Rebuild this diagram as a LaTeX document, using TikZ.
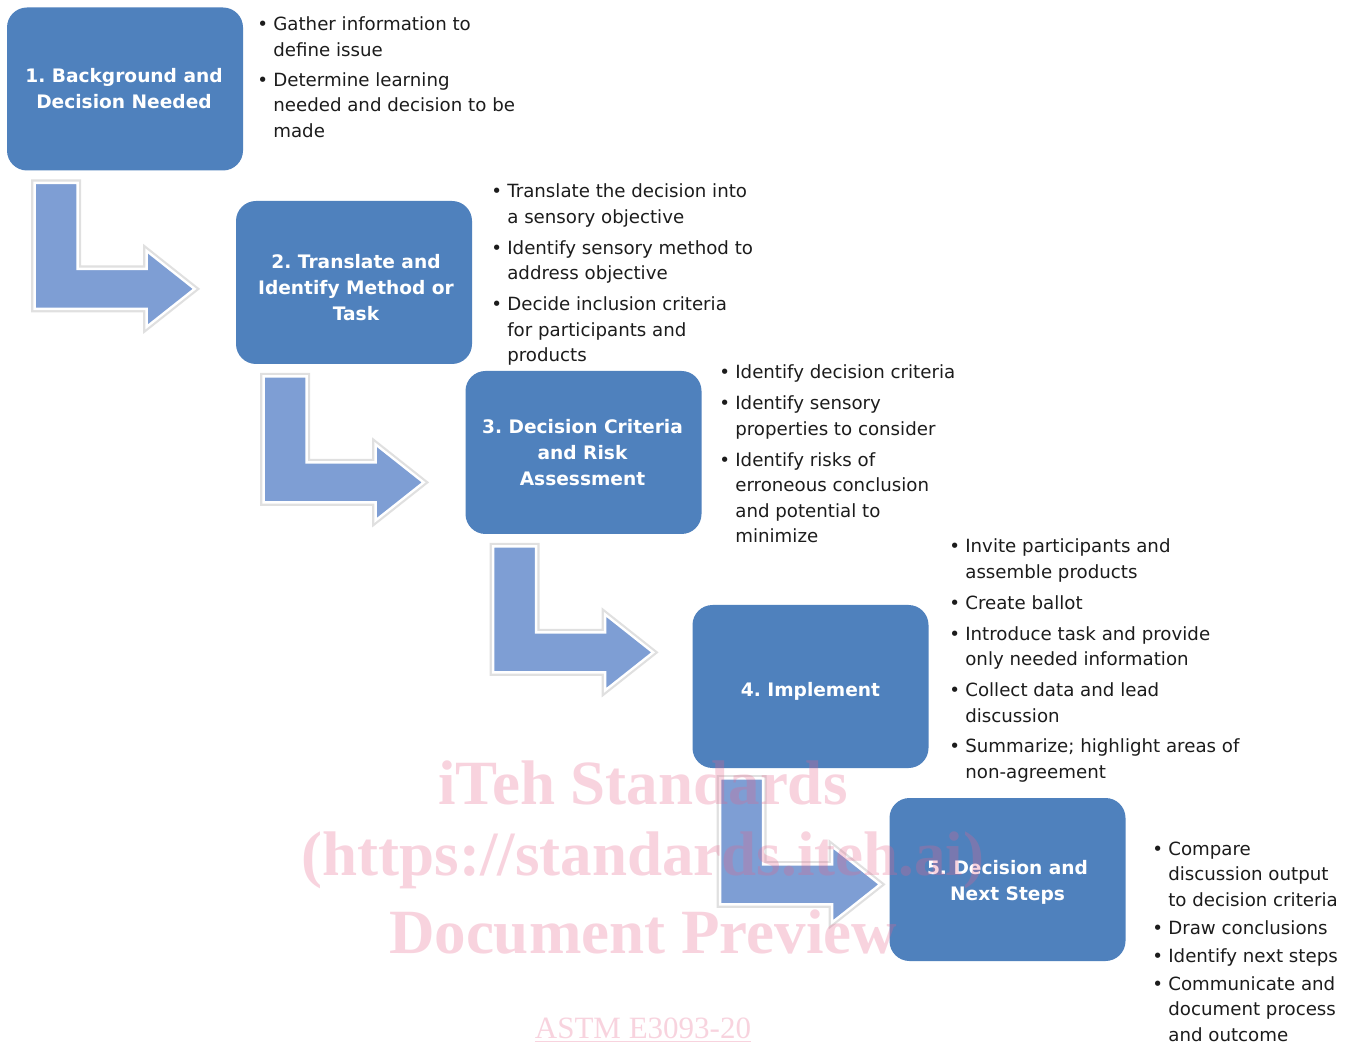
\documentclass[tikz,border=0pt]{standalone}
\usepackage{fontspec}
\setmainfont{DejaVu Sans}
\newfontfamily\wmfont{Liberation Serif}
\usetikzlibrary{calc}
\frenchspacing
\definecolor{boxblue}{RGB}{79,129,189}
\definecolor{arrowblue}{RGB}{126,158,212}
\definecolor{txt}{RGB}{28,28,28}
\definecolor{wmpink}{RGB}{230,100,140}
\newcommand{\blst}[1]{\begin{tabular}[t]{@{}l@{\hspace{2.6pt}}l@{}}#1\end{tabular}}
\tikzset{
  stepbox/.style={fill=boxblue, rounded corners=10pt, minimum width=118pt, minimum height=81.5pt,
    inner sep=0pt},
  steptext/.style={inner sep=0pt, text=white, font=\fontsize{9.3}{13}\selectfont\bfseries, align=center},
  blist/.style={anchor=base west, inner sep=0pt, text=txt, font=\fontsize{9.1}{12.8}\selectfont},
  bentarrow/.style={fill=arrowblue, draw=white, line width=1.2pt, line join=miter},
  arrowshadow/.style={draw=black!12, line width=3.4pt, line join=miter},
  wm/.style={text=wmpink, text opacity=0.28, font=\wmfont\bfseries\fontsize{31.5}{34}\selectfont, inner sep=0pt},
  bent/.pic={
    \draw[arrowshadow] (0,0) -- (43,0) -- (43,86) -- (112,86) -- (112,68) -- (160,106) -- (112,144) -- (112,126) -- (0,126) -- cycle;
    \draw[bentarrow] (0,0) -- (43,0) -- (43,86) -- (112,86) -- (112,68) -- (160,106) -- (112,144) -- (112,126) -- (0,126) -- cycle;
  }
}
\begin{document}
\begin{tikzpicture}[x=0.5pt,y=-0.5pt]
\useasboundingbox[fill=white] (0,0) rectangle (1360,1047);

% step boxes
\node[stepbox] (b1) at (125,89) {};
\node[stepbox] (b2) at (354,282.5) {};
\node[stepbox] (b3) at (583.5,452.5) {};
\node[stepbox] (b4) at (810.5,686.5) {};
\node[stepbox] (b5) at (1007.5,879.5) {};
\node[steptext] (t1) at ($(b1.center)+(-1,0)$) {1. Background and\\Decision Needed};
\node[steptext] (t2) at ($(b2.center)+(2,5)$) {2. Translate and\\Identify Method or\\Task};
\node[steptext] (t3) at ($(b3.center)+(-1,0)$) {3. Decision Criteria\\and Risk\\Assessment};
\node[steptext] (t4) at ($(b4.center)+(0,5)$) {4. Implement};
\node[steptext] (t5) at ($(b5.center)+(0,3)$) {5. Decision and\\Next Steps};

% bent arrows between steps
\pic at ($(b1.south west)+(28,12)$) {bent};
\pic at ($(b2.south west)+(28,12)$) {bent};
\pic at ($(b3.south west)+(28,12)$) {bent};
\pic at ($(b4.south west)+(28,10)$) {bent};

% bullet lists
\node[blist] (l1) at (257,31) {\blst{%
\textbullet & Gather information to\\ & define issue\\[2pt]
\textbullet & Determine learning\\ & needed and decision to be\\ & made}};
\node[blist] (l2) at (491,198) {\blst{%
\textbullet & Translate the decision into\\ & a sensory objective\\[2.6pt]
\textbullet & Identify sensory method to\\ & address objective\\[2.6pt]
\textbullet & Decide inclusion criteria\\ & for participants and\\ & products}};
\node[blist] (l3) at (719,379) {\blst{%
\textbullet & Identify decision criteria\\[2.6pt]
\textbullet & Identify sensory\\ & properties to consider\\[2.6pt]
\textbullet & Identify risks of\\ & erroneous conclusion\\ & and potential to\\ & minimize}};
\node[blist] (l4) at (949,553) {\blst{%
\textbullet & Invite participants and\\ & assemble products\\[2.6pt]
\textbullet & Create ballot\\[2.6pt]
\textbullet & Introduce task and provide\\ & only needed information\\[2.6pt]
\textbullet & Collect data and lead\\ & discussion\\[2.6pt]
\textbullet & Summarize; highlight areas of\\ & non-agreement}};
\node[blist] (l5) at (1152,855) {\blst{%
\textbullet & Compare\\ & discussion output\\ & to decision criteria\\[1.2pt]
\textbullet & Draw conclusions\\[1.2pt]
\textbullet & Identify next steps\\[1.2pt]
\textbullet & Communicate and\\ & document process\\ & and outcome}};

% watermark
\node[wm] (w1) at (643,783) {iTeh Standards};
\node[wm] (w2) at (643,860) {(https://standards.iteh.ai)};
\node[wm] (w3) at (643,932) {Document Preview};
\node[wm, font=\wmfont\fontsize{15.5}{17}\selectfont] (w4) at (643,1030) {\underline{ASTM E3093-20}};
\end{tikzpicture}
\end{document}
